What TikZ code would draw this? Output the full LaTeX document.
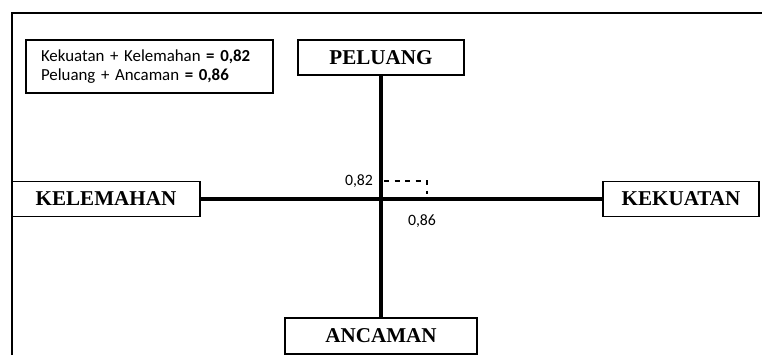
\documentclass[tikz,border=0pt]{standalone}
\usepackage{fontspec}
\setmainfont{Liberation Serif}
\newfontfamily\calib{Carlito}
\usepackage{tikz}

\begin{document}
\begin{tikzpicture}[
  kotak/.style={draw, fill=white, line width=0.8pt, inner sep=0pt, minimum height=0.7cm, font=\fontsize{12}{14}\selectfont\bfseries},
  sumbu/.style={line width=2.3pt},
  nilai/.style={font=\calib\fontsize{9}{11}\selectfont, inner sep=0pt}
 ]
 \useasboundingbox (0,0) rectangle (15.24,-7.1);
 \coordinate (tl) at (0.24,-0.26);
 \coordinate (tr) at (15.24,-0.26);
 \coordinate (bl) at (0.24,-7.1);
 \draw[line width=1.1pt] (bl) -- (tl) -- (tr);

 \draw (2.99, -1.33) node[draw, line width=0.8pt, inner xsep=0.3cm, inner ysep=2pt, minimum height=1.06cm, text width=4.34cm, align=left, font=\calib\fontsize{9.6}{11.2}\selectfont] (legenda) {Kekuatan + Kelemahan \textbf{= 0,82}\\Peluang + Ancaman \textbf{= 0,86}};

 \draw (7.62, -3.98) coordinate (pusat);
 \draw (7.62, -1.15) node[kotak, minimum width=3.32cm] (peluang) {PELUANG};
 \draw (2.12, -3.98) node[kotak, minimum width=3.76cm] (kelemahan) {KELEMAHAN};
 \draw (13.62, -3.98) node[kotak, minimum width=3.12cm] (kekuatan) {KEKUATAN};
 \draw (7.62, -6.72) node[kotak, minimum width=3.84cm, minimum height=0.72cm] (ancaman) {ANCAMAN};

 \draw[sumbu] (peluang) -- (ancaman);
 \draw[sumbu] (kelemahan) -- (kekuatan);

 \draw (7.18, -3.62) node[nilai] (n1) {0,82};
 \draw (8.44, -4.42) node[nilai] (n2) {0,86};
 \coordinate (d1) at (7.68,-3.62);
 \coordinate (d2) at (8.54,-3.62);
 \coordinate (d3) at (8.54,-3.88);
 \draw[dashed, line width=0.7pt, dash pattern=on 3pt off 3pt] (d1) -- (d2) -- (d3);
\end{tikzpicture}
\end{document}
